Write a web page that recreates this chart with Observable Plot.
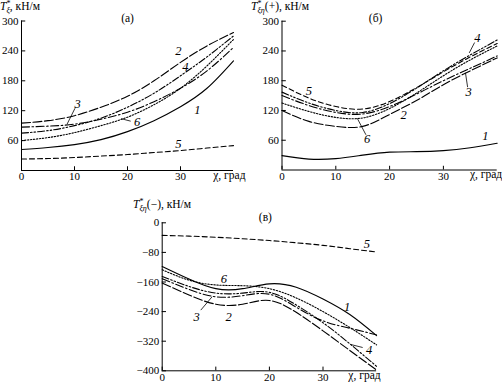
<!DOCTYPE html>
<html>
<head>
<meta charset="utf-8">
<script src="https://cdn.jsdelivr.net/npm/d3@7"></script>
<script src="https://cdn.jsdelivr.net/npm/@observablehq/plot@0.6"></script>
<style>
  body { margin: 0; background: #fff; }
  #wrap { position: relative; width: 502px; height: 385px; overflow: hidden; background: #fff; }
  #wrap svg text { font-family: "Liberation Serif", "Times New Roman", serif; }
</style>
</head>
<body>
<div id="wrap"></div>
<script>
// angle χ, град
const chi = [0, 5, 10, 15, 20, 25, 30, 35, 40];
const xTicks = [0, 10, 20, 30];

// panel (а): T*ξ, кН/м — curves 1..6
const a1 = [42, 46, 52, 62, 78, 100, 128, 165, 220];
const a2 = [95, 100, 110, 127, 149, 180, 217, 250, 277];
const a3 = [87, 89, 93, 103, 117, 138, 165, 200, 247];
const a4 = [75, 80, 90, 105, 127, 155, 190, 228, 270];
const a5 = [23, 24, 26, 29, 32, 36, 40, 45, 50];
const a6 = [60, 66, 76, 90, 107, 132, 165, 210, 263];
const aTicks = [60, 120, 180, 240, 300];

// panel (б): T*ξη(+), кН/м
const b1 = [29, 22, 23, 30, 36, 37, 39, 45, 54];
const b2 = [120, 98, 88, 88, 112, 140, 172, 200, 226];
const b3 = [150, 130, 116, 113, 128, 153, 180, 205, 230];
const b4 = [157, 135, 120, 116, 134, 165, 200, 232, 262];
const b5 = [171, 145, 128, 123, 138, 166, 198, 228, 255];
const b6 = [135, 118, 106, 105, 124, 155, 190, 222, 250];
const bTicks = [60, 120, 180, 240, 300];

// panel (в): T*ξη(−), кН/м
const c1 = [-118, -152, -178, -178, -165, -174, -206, -248, -305];
const c2 = [-163, -195, -220, -220, -210, -242, -292, -345, -398];
const c3 = [-151, -180, -200, -197, -193, -228, -265, -285, -303];
const c4 = [-145, -172, -190, -190, -188, -222, -270, -327, -388];
const c5 = [-34, -36, -39, -43, -48, -54, -61, -70, -79];
const c6 = [-127, -155, -168, -170, -178, -203, -240, -283, -330];
const cTicks = [0, -80, -160, -240, -320, -400];

// curve number labels and leader lines
const aLabels = [
  {t: "1", x: 33.2, y: 122}, {t: "2", x: 29.6, y: 240}, {t: "3", x: 10.6, y: 134},
  {t: "4", x: 30.9, y: 207}, {t: "5", x: 29.6, y: 54}, {t: "6", x: 21.8, y: 97}
];
const aLeaders = [
  {x1: 10.1, y1: 125, x2: 8.6, y2: 93},
  {x1: 20.6, y1: 99, x2: 18.8, y2: 104}
];
const bLabels = [
  {t: "1", x: 37.8, y: 68}, {t: "2", x: 22.6, y: 110}, {t: "3", x: 34.7, y: 158},
  {t: "4", x: 36.3, y: 267}, {t: "5", x: 5, y: 160}, {t: "6", x: 15.8, y: 62}
];
const bLeaders = [
  {x1: 15.6, y1: 71, x2: 14, y2: 104},
  {x1: 34.5, y1: 167, x2: 34.1, y2: 196},
  {x1: 35.8, y1: 257, x2: 34.8, y2: 236}
];
const cLabels = [
  {t: "1", x: 34.5, y: -228}, {t: "2", x: 12.4, y: -255}, {t: "3", x: 6.4, y: -255},
  {t: "4", x: 38.6, y: -343}, {t: "5", x: 38.2, y: -57}, {t: "6", x: 11.5, y: -152}
];
const cLeaders = [
  {x1: 7.2, y1: -236, x2: 9.3, y2: -200},
  {x1: 37.4, y1: -337, x2: 35.2, y2: -329}
];

const dashes = [null, "9,2.5", "8,2.5,1.6,2.5", "7,2,1.6,2,1.6,2", "5,3", "1.4,1.6"];
const FONT = "'Liberation Serif', 'Times New Roman', serif";

function fmt(d) { return d < 0 ? "\u2212" + Math.abs(d) : String(d); }

function panel(o) {
  const marks = [];
  o.series.forEach((vals, i) => {
    marks.push(Plot.line(chi.map((x, j) => ({x, y: vals[j]})), {
      x: "x", y: "y", curve: "natural", stroke: "black", strokeWidth: 1.1,
      strokeDasharray: dashes[i]
    }));
  });
  const [yMin, yMax] = o.yDomain;
  marks.push(Plot.ruleX([0], {y1: yMin, y2: yMax, stroke: "black", strokeWidth: 1}));
  marks.push(Plot.ruleY([yMin], {x1: 0, x2: 40, stroke: "black", strokeWidth: 1}));
  marks.push(Plot.ruleY(o.yTicks, {y: d => d, x1: 0, x2: 0.8, stroke: "black"}));
  marks.push(Plot.ruleX(xTicks, {x: d => d, y1: yMin, y2: yMin + (yMax - yMin) * 0.025, stroke: "black"}));
  marks.push(Plot.axisY({ticks: o.yTicks, tickSize: 0, tickPadding: 3, label: null, tickFormat: fmt, fontSize: 11, fontFamily: FONT}));
  marks.push(Plot.axisX({ticks: xTicks, tickSize: 0, tickPadding: 2, label: null, tickFormat: fmt, fontSize: 11, fontFamily: FONT}));
  marks.push(Plot.link(o.leaders, {x1: "x1", y1: "y1", x2: "x2", y2: "y2", stroke: "black", strokeWidth: 0.8}));
  marks.push(Plot.text(o.labels, {x: "x", y: "y", text: "t", fontStyle: "italic", fontSize: 12.5, fontFamily: FONT, fill: "black"}));
  marks.push(Plot.text([o.title], {frameAnchor: "top", dx: o.titleDx, dy: o.titleDy, fontSize: 11.5, fontFamily: FONT, fill: "black"}));
  marks.push(Plot.text(["\u03c7, град"], {frameAnchor: "bottom-right", textAnchor: "end", dx: o.xlabDx, dy: 8, fontSize: 11.5, fontFamily: FONT, fill: "black"}));

  const svg = Plot.plot({
    width: o.width, height: o.height,
    marginLeft: o.ml, marginRight: o.mr, marginTop: o.mt, marginBottom: o.mb,
    x: {domain: [0, 40], axis: null},
    y: {domain: o.yDomain, axis: null},
    style: {fontFamily: FONT, fontSize: "11px", background: "transparent", overflow: "visible", color: "black"},
    marks
  });
  svg.style.position = "absolute";
  svg.style.left = o.left + "px";
  svg.style.top = o.top + "px";

  const t = d3.select(svg).append("text")
    .attr("x", o.tx).attr("y", o.ty).attr("text-anchor", "start")
    .attr("font-family", FONT).attr("font-size", 11.5).attr("fill", "black");
  t.append("tspan").attr("font-style", "italic").text("T");
  t.append("tspan").attr("font-size", 8).attr("dy", -4.5).text("*");
  t.append("tspan").attr("font-size", 8).attr("font-style", "italic").attr("dx", -4).attr("dy", 7.5).text(o.sub);
  t.append("tspan").attr("dy", -3).text(o.rest);

  document.getElementById("wrap").appendChild(svg);
}

panel({
  series: [a1, a2, a3, a4, a5, a6], yDomain: [0, 300], yTicks: aTicks,
  labels: aLabels, leaders: aLeaders, title: "(а)", titleDx: 0, titleDy: -7,
  xlabDx: 12,
  left: 0, top: 0, width: 250, height: 185, ml: 21, mr: 17, mt: 20.5, mb: 15,
  tx: 0, ty: 10, sub: "\u03be", rest: ", кН/м"
});
panel({
  series: [b1, b2, b3, b4, b5, b6], yDomain: [0, 300], yTicks: bTicks,
  labels: bLabels, leaders: bLeaders, title: "(б)", titleDx: -14, titleDy: -7,
  xlabDx: 5,
  left: 250, top: 0, width: 252, height: 185, ml: 31.5, mr: 5.3, mt: 20.7, mb: 15.5,
  tx: 1, ty: 10, sub: "\u03be\u03b7", rest: "(+), кН/м"
});
panel({
  series: [c1, c2, c3, c4, c5, c6], yDomain: [-400, 0], yTicks: cTicks,
  labels: cLabels, leaders: cLeaders, title: "(в)", titleDx: -4, titleDy: -10,
  xlabDx: 4,
  left: 120, top: 190, width: 262, height: 195, ml: 41.7, mr: 5.9, mt: 32.3, mb: 14.7,
  tx: 13, ty: 18, sub: "\u03be\u03b7", rest: "(\u2212), кН/м"
});
</script>
</body>
</html>
